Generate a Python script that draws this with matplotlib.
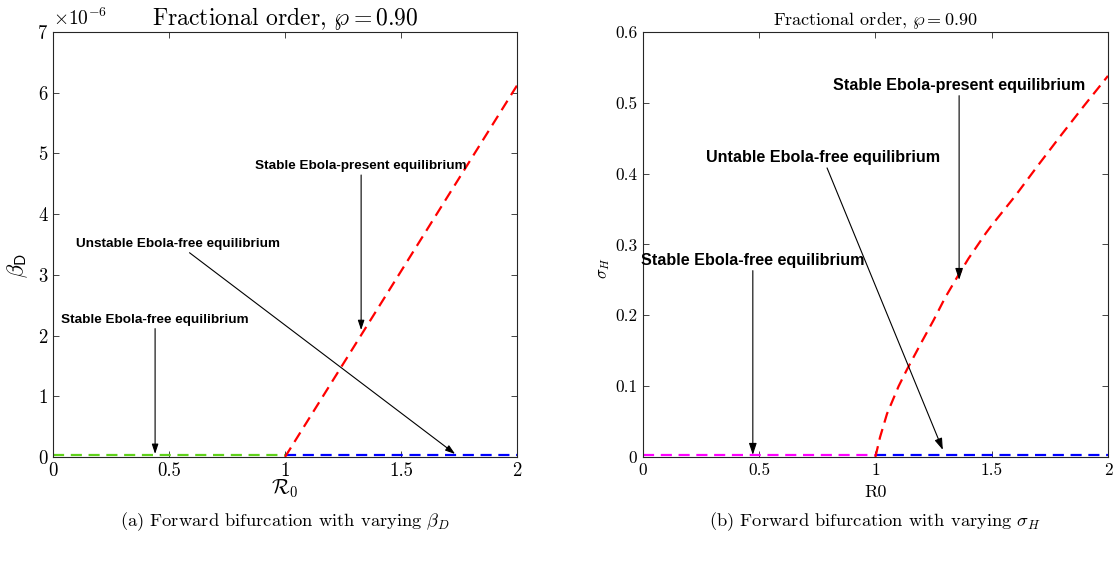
import matplotlib
matplotlib.use("Agg")
import matplotlib.pyplot as plt
from matplotlib.ticker import FuncFormatter

plt.rcParams['font.family'] = 'serif'
plt.rcParams['font.serif'] = ['cmr10']
plt.rcParams['mathtext.fontset'] = 'cm'
plt.rcParams['axes.formatter.use_mathtext'] = False

# (a) beta_D against R0
r0_free = [0.0, 1.0]
beta_free = [0.04e-6, 0.04e-6]
r0_unstable = [1.0, 2.0]
beta_unstable = [0.04e-6, 0.04e-6]
r0_present = [1.0, 2.0]
beta_present = [0.0, 6.12e-6]

# (b) sigma_H against R0
r0_free_b = [0.0, 1.0]
sigma_free = [0.003, 0.003]
r0_unstable_b = [1.0, 2.0]
sigma_unstable = [0.003, 0.003]
r0_present_b = [1.0, 1.02, 1.05, 1.1, 1.135, 1.2, 1.25, 1.3, 1.35, 1.4, 1.475, 1.5,
                1.6, 1.7, 1.8, 1.9, 2.0]
sigma_present = [0.0, 0.028, 0.061, 0.10, 0.123, 0.163, 0.193, 0.225, 0.253, 0.28, 0.316, 0.327,
                 0.368, 0.412, 0.455, 0.497, 0.538]

ann_font = dict(family='Liberation Sans', weight='bold', color='black')
arrow = dict(arrowstyle='-|>,head_length=0.6,head_width=0.2', color='black', lw=0.8, shrinkA=0, shrinkB=0)
dash = (5, 3)

fig = plt.figure(figsize=(11.16, 5.61), dpi=100)
ax1 = fig.add_axes([0.0475, 0.1854, 0.4158, 0.7576])
ax2 = fig.add_axes([0.576, 0.1854, 0.4168, 0.7576])

# left panel
ax1.plot(r0_free, beta_free, color='#5fd11a', lw=1.6, dashes=dash)
ax1.plot(r0_unstable, beta_unstable, color='#0000ff', lw=1.6, dashes=dash)
ax1.plot(r0_present, beta_present, color='#ff0000', lw=1.6, dashes=dash)
ax1.set_xlim(0, 2)
ax1.set_ylim(0, 7e-6)
ax1.set_xticks([0, 0.5, 1, 1.5, 2])
ax1.set_yticks([i * 1e-6 for i in range(8)])
ax1.yaxis.set_major_formatter(FuncFormatter(lambda v, p: '%g' % round(v * 1e6, 6)))
ax1.text(0.0, 1.006, r'$\times10^{-6}$', transform=ax1.transAxes, fontsize=14,
         ha='left', va='bottom')
ax1.set_title(r'Fractional order, $\wp = 0.90$', fontsize=17, pad=5)
ax1.set_xlabel(r'$\mathcal{R}_0$', fontsize=15, labelpad=-2)
ax1.set_ylabel(r'$\beta_{\mathsf{D}}$', fontsize=16)
ax1.yaxis.set_label_coords(-0.05, 0.45)

ax1.annotate('Stable Ebola-free equilibrium', xy=(0.44, 0.05e-6), xytext=(0.44, 2.16e-6),
             ha='center', va='bottom', fontsize=9.7, arrowprops=arrow, **ann_font)
ax1.annotate('Unstable Ebola-free equilibrium', xy=(1.733, 0.05e-6), xytext=(0.978, 3.41e-6),
             ha='right', va='bottom', fontsize=9.7, arrowprops=arrow, **ann_font)
ax1.annotate('Stable Ebola-present equilibrium', xy=(1.328, 2.09e-6), xytext=(1.328, 4.69e-6),
             ha='center', va='bottom', fontsize=9.7, arrowprops=arrow, **ann_font)

# right panel
ax2.plot(r0_free_b, sigma_free, color='#ff00ff', lw=1.6, dashes=dash)
ax2.plot(r0_unstable_b, sigma_unstable, color='#0000ff', lw=1.6, dashes=dash)
ax2.plot(r0_present_b, sigma_present, color='#ff0000', lw=1.6, dashes=dash)
ax2.set_xlim(0, 2)
ax2.set_ylim(0, 0.6)
ax2.set_xticks([0, 0.5, 1, 1.5, 2])
ax2.set_yticks([0, 0.1, 0.2, 0.3, 0.4, 0.5, 0.6])
ax2.set_title(r'Fractional order, $\wp = 0.90$', fontsize=13, pad=5)
ax2.set_xlabel('R0', fontsize=13, labelpad=5)
ax2.set_ylabel(r'$\sigma_H$', fontsize=12)
ax2.yaxis.set_label_coords(-0.066, 0.445)

ax2.annotate('Stable Ebola-free equilibrium', xy=(0.473, 0.003), xytext=(0.473, 0.267),
             ha='center', va='bottom', fontsize=11.6, arrowprops=arrow, **ann_font)
ax2.annotate('Untable Ebola-free equilibrium', xy=(1.29, 0.01), xytext=(0.774, 0.412),
             ha='center', va='bottom', fontsize=11.6, arrowprops=arrow, **ann_font)
ax2.annotate('Stable Ebola-present equilibrium', xy=(1.36, 0.25), xytext=(1.36, 0.514),
             ha='center', va='bottom', fontsize=11.6, arrowprops=arrow, **ann_font)

for ax, size in ((ax1, 13.5), (ax2, 12.5)):
    ax.xaxis.set_major_formatter(FuncFormatter(lambda v, p: '%g' % v))
    ax.tick_params(direction='in', top=True, right=True, length=4, width=0.6,
                   color='#262626', labelsize=size, pad=4)
    for s in ax.spines.values():
        s.set_color('#262626')
        s.set_linewidth(0.8)

ax2.yaxis.set_major_formatter(FuncFormatter(lambda v, p: '%g' % round(v, 3)))

fig.text(0.255, 0.0695, r'(a) Forward bifurcation with varying $\beta_D$', ha='center', va='center', fontsize=13.3)
fig.text(0.784, 0.0695, r'(b) Forward bifurcation with varying $\sigma_H$', ha='center', va='center', fontsize=13.3)

fig.savefig('out.png', dpi=100)
